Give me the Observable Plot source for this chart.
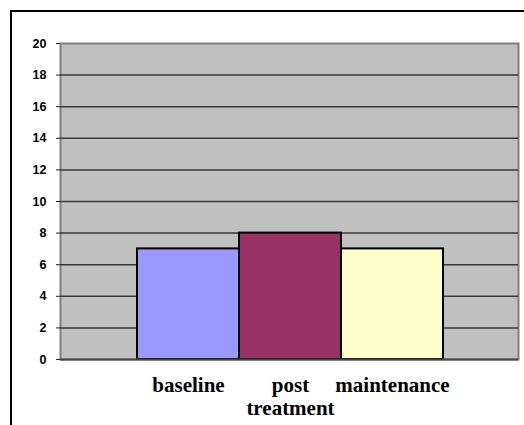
<!DOCTYPE html>
<html>
<head>
<meta charset="utf-8">
<script src="https://cdn.jsdelivr.net/npm/d3@7"></script>
<script src="https://cdn.jsdelivr.net/npm/@observablehq/plot@0.6"></script>
<style>
  html, body { margin: 0; padding: 0; background: #fff; overflow: hidden; }
  #wrap { position: relative; width: 524px; height: 425px; overflow: hidden; background: #fff; }
  #outer { position: absolute; left: 9.5px; top: 10px; width: 700px; height: 700px;
           border-left: 2.5px solid #000; border-top: 2.5px solid #000; }
  #chart { position: absolute; left: 0; top: 0; }
</style>
</head>
<body>
<div id="wrap">
  <div id="outer"></div>
  <div id="chart"></div>
</div>
<script>
const categories = ["baseline", "post treatment", "maintenance"];
const values = [7, 8, 7];
const colors = ["#9999ff", "#993366", "#ffffcc"];
const yTicks = [0, 2, 4, 6, 8, 10, 12, 14, 16, 18, 20];

const data = categories.map((c, i) => ({category: c, value: values[i], color: colors[i]}));

const plot = Plot.plot({
  width: 524,
  height: 425,
  marginLeft: 60,
  marginTop: 43,
  marginRight: 6,
  marginBottom: 66,
  style: {background: "transparent", fontFamily: "'Liberation Sans', Arial, sans-serif"},
  x: {domain: categories, range: [136, 443], padding: 0},
  y: {domain: [0, 20]},
  marks: [
    Plot.frame({fill: "#c0c0c0", stroke: "#808080", strokeWidth: 2}),
    Plot.gridY(yTicks.filter(d => d > 0 && d < 20), {stroke: "#383838", strokeOpacity: 1, strokeWidth: 1.5}),
    Plot.barY(data, {x: "category", y: "value", fill: "color", stroke: "#000", strokeWidth: 2}),
    Plot.ruleY([0], {stroke: "#444", strokeWidth: 2}),
    Plot.axisY(yTicks, {
      tickSize: 4, tickPadding: 10, line: true, stroke: "#222",
      fontSize: 12.5, fontWeight: "bold", fill: "#000", label: null
    }),
    Plot.axisX({
      tickSize: 0, tickPadding: 16, lineWidth: 5, lineHeight: 1.1,
      fontSize: 21, fontWeight: "bold", fontFamily: "'Liberation Serif', 'Times New Roman', serif",
      fill: "#000", label: null
    })
  ]
});
document.getElementById("chart").appendChild(plot);
</script>
</body>
</html>
